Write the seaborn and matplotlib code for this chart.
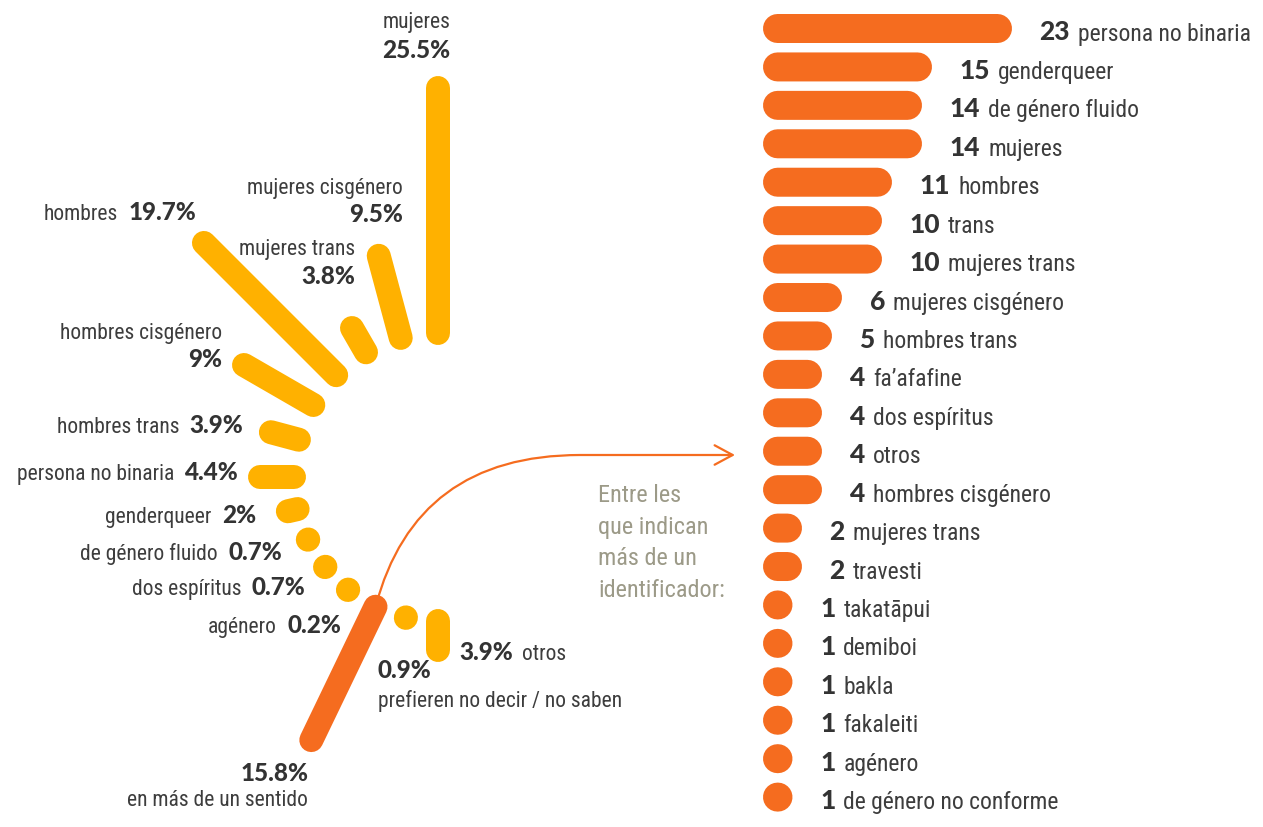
import matplotlib
matplotlib.use("Agg")
import numpy as np
import pandas as pd
import seaborn as sns
import matplotlib.pyplot as plt
from matplotlib import font_manager
from matplotlib.path import Path
from matplotlib.patches import FancyArrowPatch, ArrowStyle

# identidad de género, % de respuestas (en el orden del abanico)
fan_names = ["mujeres", "mujeres cisgénero", "mujeres trans", "hombres",
             "hombres cisgénero", "hombres trans", "persona no binaria",
             "genderqueer", "de género fluido", "dos espíritus", "agénero",
             "en más de un sentido", "prefieren no decir / no saben", "otros"]
fan_pct = [25.5, 9.5, 3.8, 19.7, 9, 3.9, 4.4, 2, 0.7, 0.7, 0.2, 15.8, 0.9, 3.9]
fan_group = ["una"] * 11 + ["varias"] + ["una"] * 2

# entre les que indican más de un identificador
multi_names = ["persona no binaria", "genderqueer", "de género fluido", "mujeres",
               "hombres", "trans", "mujeres trans", "mujeres cisgénero",
               "hombres trans", "fa’afafine", "dos espíritus", "otros",
               "hombres cisgénero", "mujeres trans", "travesti", "takatāpui",
               "demiboi", "bakla", "fakaleiti", "agénero", "de género no conforme"]
multi_counts = [23, 15, 14, 14, 11, 10, 10, 6, 5, 4, 4, 4, 4, 2, 2, 1, 1, 1, 1, 1, 1]

note_lines = ["Entre les", "que indican", "más de un", "identificador:"]

YELLOW = "#FFB100"
ORANGE = "#F56C1F"
TEXT = "#3d3d3d"
NUM = "#333333"
NOTE = "#9c9a88"

sns.set_theme(style="white")
installed = {f.name for f in font_manager.fontManager.ttflist}


def pick(cands):
    return next((c for c in cands if c in installed), "DejaVu Sans")


narrow = pick(["Liberation Sans Narrow", "Roboto Condensed", "Open Sans Condensed", "Roboto"])
heavy = pick(["Lato Black", "Lato Heavy", "Roboto Black", "Lato", "Roboto"])
plt.rcParams["font.family"] = [narrow, "DejaVu Sans"]
body_kw = dict(family=[narrow, "DejaVu Sans"], color=TEXT)
num_kw = dict(family=[heavy, "DejaVu Sans"], weight="black", color=NUM)

W, H = 1263, 828
PX = 10.0  # pixeles por punto (porcentaje o persona)

fig = plt.figure(figsize=(W / 100, H / 100), dpi=100)
fig.patch.set_facecolor("white")

# ---------------- abanico ----------------
cx, cy, r0 = 438, 478, 14.4
axL = fig.add_axes([0, 0, 1, 1])

n_top = 7
angles = np.deg2rad(np.r_[np.linspace(90, 180, n_top),
                          np.linspace(180, 270, len(fan_pct) - n_top + 1)[1:]])
r_out = r0 + np.maximum(np.array(fan_pct) - 1, 0.05)

rows = []
for i, (a, ro, g) in enumerate(zip(angles, r_out, fan_group)):
    rows.append(dict(id=i, grupo=g, x=r0 * np.cos(a), y=r0 * np.sin(a)))
    rows.append(dict(id=i, grupo=g, x=ro * np.cos(a), y=ro * np.sin(a)))
fan = pd.DataFrame(rows)

sns.lineplot(data=fan, x="x", y="y", units="id", estimator=None, sort=False,
             hue="grupo", palette={"una": YELLOW, "varias": ORANGE},
             linewidth=24 * 0.72, solid_capstyle="round", snap=False,
             legend=False, ax=axL)
axL.set_xlim(-cx / PX, (W - cx) / PX)
axL.set_ylim(-(H - cy) / PX, cy / PX)
axL.set_axis_off()

# (alineación, dx, dy número, dy nombre) en pixeles desde el extremo de la barra
fan_layout = [
    ("right", 12, -31, -61),
    ("right", 24, -35, -63),
    ("right", 3, -45, -74),
    ("right", -8, -24, None),
    ("right", -22, 1, -27),
    ("right", -28, 0, None),
    ("right", -22, 2, None),
    ("right", -32, 11, None),
    ("right", -26, 19, None),
    ("right", -20, 27, None),
    ("right", -7, 42, None),
    ("right", -3, 40, 65),
    ("left", -28, 59, 88),
    ("left", 21, 9, None),
]

for i, (name, pct) in enumerate(zip(fan_names, fan_pct)):
    ha, dx, dyn, dyl = fan_layout[i]
    xy = (r_out[i] * np.cos(angles[i]), r_out[i] * np.sin(angles[i]))
    num = axL.annotate(f"{pct:g}%", xy=xy, xytext=(dx, -dyn), textcoords="offset pixels",
                       ha=ha, va="baseline", fontsize=17.5, **num_kw)
    if dyl is not None:
        axL.annotate(name, xy=xy, xytext=(dx, -dyl), textcoords="offset pixels",
                     ha=ha, va="baseline", fontsize=15.5, **body_kw)
    elif ha == "right":
        axL.annotate(name, xy=(0, xy[1]), xycoords=(num, "data"), xytext=(-10, -dyn),
                     textcoords="offset pixels", ha="right", va="baseline",
                     fontsize=15.5, **body_kw)
    else:
        axL.annotate(name, xy=(1, xy[1]), xycoords=(num, "data"), xytext=(9, -dyn),
                     textcoords="offset pixels", ha="left", va="baseline",
                     fontsize=15.5, **body_kw)

# flecha desde la barra naranja hacia la lista
a = angles[fan_group.index("varias")]
sx, sy = r0 * np.cos(a), r0 * np.sin(a)
ty = (cy - 456) / PX
verts = [(sx, sy), (sx + 4.0, ty), ((580 - cx) / PX, ty), ((735 - cx) / PX, ty)]
codes = [Path.MOVETO, Path.CURVE3, Path.CURVE3, Path.LINETO]
arrow = FancyArrowPatch(path=Path(verts, codes),
                        arrowstyle=ArrowStyle("->", head_length=13, head_width=7),
                        mutation_scale=1, lw=1.6, color=ORANGE,
                        transform=axL.transData, zorder=1)
axL.add_patch(arrow)

for k, line in enumerate(note_lines):
    axL.text((598 - cx) / PX, (cy - 502 - k * 31.7) / PX, line, ha="left",
             va="baseline", fontsize=17.5, family=[narrow, "DejaVu Sans"], color=NOTE)

# ---------------- barras ----------------
x0, y0, row_h = 777.5, 29.5, 38.43
axR = fig.add_axes([0, 0, 1, 1])
axR.patch.set_alpha(0)

bars = pd.DataFrame({
    "fila": np.repeat(np.arange(len(multi_counts)), 2),
    "x": np.ravel([[0, max(n - 1, 0.05)] for n in multi_counts]),
})
sns.lineplot(data=bars, x="x", y="fila", units="fila", estimator=None, sort=False,
             color=ORANGE, linewidth=29 * 0.72, solid_capstyle="round", snap=False,
             legend=False, ax=axR)
axR.set_xlim(-x0 / PX, (W - x0) / PX)
axR.set_ylim((H - y0) / row_h, -y0 / row_h)
axR.set_axis_off()

for i, (name, n) in enumerate(zip(multi_names, multi_counts)):
    end = max(n - 1, 0.05)
    num = axR.annotate(str(n), xy=(end, i), xytext=(42, -11), textcoords="offset pixels",
                       ha="left", va="baseline", fontsize=19, **num_kw)
    axR.annotate(name, xy=(1, i), xycoords=(num, "data"), xytext=(8, -11),
                 textcoords="offset pixels", ha="left", va="baseline",
                 fontsize=17, **body_kw)

fig.savefig("out.png", dpi=100, facecolor="white")
